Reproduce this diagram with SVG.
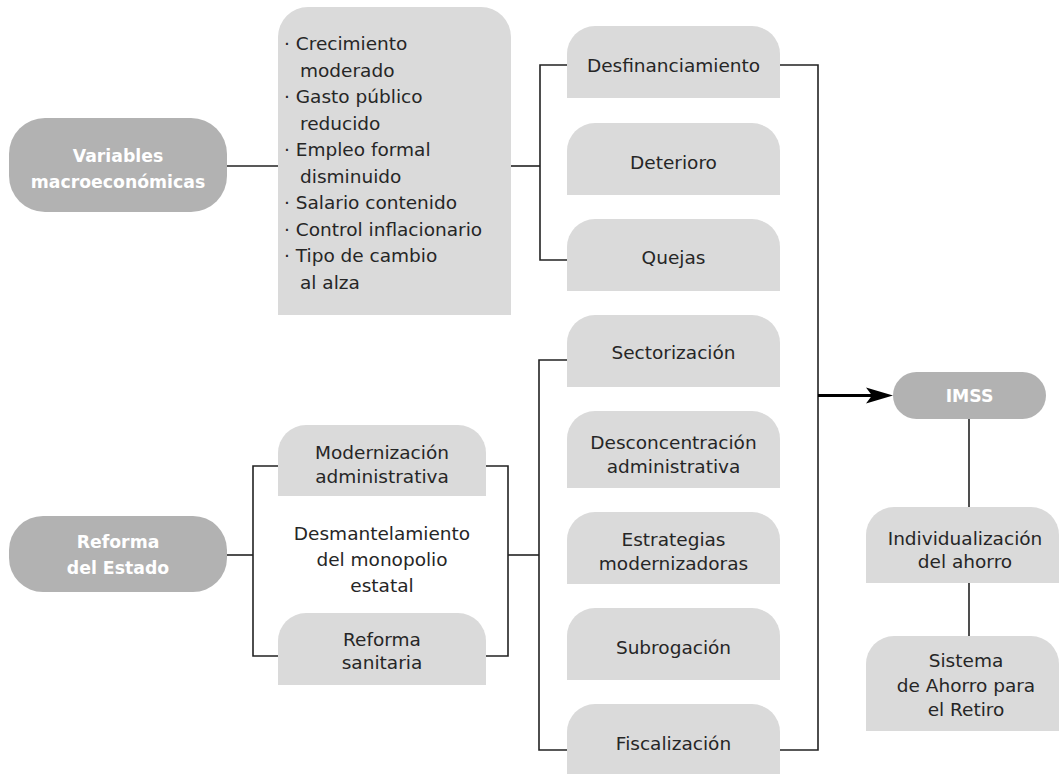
<svg xmlns="http://www.w3.org/2000/svg" width="1059" height="774" viewBox="0 0 1059 774">
<style>
.dark{fill:#b2b2b2}
.light{fill:#dadada}
.t{font-family:"DejaVu Sans",sans-serif;font-size:18.5px;fill:#262626;text-anchor:middle}
.tl{font-family:"DejaVu Sans",sans-serif;font-size:18.5px;fill:#262626}
.tb{font-family:"DejaVu Sans",sans-serif;font-size:17.3px;font-weight:bold;fill:#ffffff;text-anchor:middle}
.ln{fill:none;stroke:#222;stroke-width:1.6}
</style>
<rect width="1059" height="774" fill="#ffffff"/>
<g id="connectors">
<path class="ln" d="M227,166 H278"/>
<path class="ln" d="M511,166 H540"/>
<path class="ln" d="M568,65 H540 V260 H568"/>
<path class="ln" d="M780,65 H818 V750 H780"/>
<path class="ln" d="M568,360 H539 V750 H568"/>
<path class="ln" d="M511,555 H539"/>
<path class="ln" d="M227,555 H253"/>
<path class="ln" d="M278,466 H253 V656 H278"/>
<path class="ln" d="M486,466 H508 V656 H486"/>
<path class="ln" d="M508,555 H511"/>
<path class="ln" d="M969,419 V507"/>
<path class="ln" d="M969,583 V636"/>
<path d="M818,395.5 H872" fill="none" stroke="#000" stroke-width="3.2"/>
<path d="M866,387.5 L893,395.5 L866,403.5 L872,395.5 Z" fill="#000"/>
</g>
<g id="variables">
<rect class="dark" x="9" y="118" width="218" height="94" rx="36"/>
<text class="tb" x="118" y="162">Variables</text>
<text class="tb" x="118" y="188">macroeconómicas</text>
</g>
<g id="lista">
<path class="light" d="M278,315 V37 A30,30 0 0 1 308,7 H481 A30,30 0 0 1 511,37 V315 Z"/>
<text class="tl" x="284" y="50">· Crecimiento</text>
<text class="tl" x="300" y="76.5">moderado</text>
<text class="tl" x="284" y="103">· Gasto público</text>
<text class="tl" x="300" y="129.5">reducido</text>
<text class="tl" x="284" y="156">· Empleo formal</text>
<text class="tl" x="300" y="182.5">disminuido</text>
<text class="tl" x="284" y="209">· Salario contenido</text>
<text class="tl" x="284" y="235.5">· Control inflacionario</text>
<text class="tl" x="284" y="262">· Tipo de cambio</text>
<text class="tl" x="300" y="288.5">al alza</text>
</g>
<g id="desfinanciamiento">
<path class="light" d="M567,98 V54 A28,28 0 0 1 595,26 H752 A28,28 0 0 1 780,54 V98 Z"/>
<text class="t" x="673.5" y="72">Desfinanciamiento</text>
</g>
<g id="deterioro">
<path class="light" d="M567,195 V151 A28,28 0 0 1 595,123 H752 A28,28 0 0 1 780,151 V195 Z"/>
<text class="t" x="673.5" y="169">Deterioro</text>
</g>
<g id="quejas">
<path class="light" d="M567,291 V247 A28,28 0 0 1 595,219 H752 A28,28 0 0 1 780,247 V291 Z"/>
<text class="t" x="673.5" y="264">Quejas</text>
</g>
<g id="reforma">
<rect class="dark" x="9" y="516" width="218" height="76" rx="34"/>
<text class="tb" x="118" y="548">Reforma</text>
<text class="tb" x="118" y="574">del Estado</text>
</g>
<g id="modernizacion">
<path class="light" d="M278,496 V453 A28,28 0 0 1 306,425 H458 A28,28 0 0 1 486,453 V496 Z"/>
<text class="t" x="382" y="459">Modernización</text>
<text class="t" x="382" y="483">administrativa</text>
</g>
<g id="desmantelamiento">
<text class="t" x="382" y="540">Desmantelamiento</text>
<text class="t" x="382" y="566">del monopolio</text>
<text class="t" x="382" y="592">estatal</text>
</g>
<g id="reforma-sanitaria">
<path class="light" d="M278,685 V641 A28,28 0 0 1 306,613 H458 A28,28 0 0 1 486,641 V685 Z"/>
<text class="t" x="382" y="646">Reforma</text>
<text class="t" x="382" y="669">sanitaria</text>
</g>
<g id="sectorizacion">
<path class="light" d="M567,387 V343 A28,28 0 0 1 595,315 H752 A28,28 0 0 1 780,343 V387 Z"/>
<text class="t" x="673.5" y="359">Sectorización</text>
</g>
<g id="desconcentracion">
<path class="light" d="M567,488 V439 A28,28 0 0 1 595,411 H752 A28,28 0 0 1 780,439 V488 Z"/>
<text class="t" x="673.5" y="449">Desconcentración</text>
<text class="t" x="673.5" y="473">administrativa</text>
</g>
<g id="estrategias">
<path class="light" d="M567,584 V540 A28,28 0 0 1 595,512 H752 A28,28 0 0 1 780,540 V584 Z"/>
<text class="t" x="673.5" y="546">Estrategias</text>
<text class="t" x="673.5" y="570">modernizadoras</text>
</g>
<g id="subrogacion">
<path class="light" d="M567,680 V636 A28,28 0 0 1 595,608 H752 A28,28 0 0 1 780,636 V680 Z"/>
<text class="t" x="673.5" y="654">Subrogación</text>
</g>
<g id="fiscalizacion">
<path class="light" d="M567,774 V732 A28,28 0 0 1 595,704 H752 A28,28 0 0 1 780,732 V774 Z"/>
<text class="t" x="673.5" y="750">Fiscalización</text>
</g>
<g id="imss">
<rect class="dark" x="893" y="372" width="153" height="47" rx="23.5"/>
<text class="tb" x="969.5" y="402">IMSS</text>
</g>
<g id="individualizacion">
<path class="light" d="M866,583 V535 A28,28 0 0 1 894,507 H1031 A28,28 0 0 1 1059,535 V583 Z"/>
<text class="t" x="965" y="545">Individualización</text>
<text class="t" x="965" y="568">del ahorro</text>
</g>
<g id="sar">
<path class="light" d="M866,731 V664 A28,28 0 0 1 894,636 H1031 A28,28 0 0 1 1059,664 V731 Z"/>
<text class="t" x="966" y="667">Sistema</text>
<text class="t" x="966" y="692">de Ahorro para</text>
<text class="t" x="966" y="716">el Retiro</text>
</g>
</svg>
